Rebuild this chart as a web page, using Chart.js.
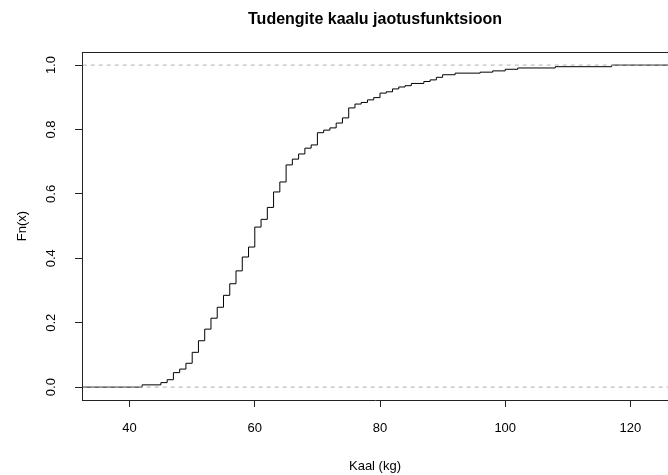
<!DOCTYPE html>
<html>
<head>
<meta charset="utf-8">
<title>Tudengite kaalu jaotusfunktsioon</title>
<script src="https://cdn.jsdelivr.net/npm/chart.js@4.4.0/dist/chart.umd.min.js"></script>
<style>
    html, body { margin: 0; padding: 0; background: #fff; }
    canvas { display: block; }
</style>
</head>
<body>
<canvas id="ecdfChart" width="668" height="475"></canvas>
<script>
// --- ANDMED ---
// Kaalud (kg), kus empiiriline jaotusfunktsioon hüppab (loetud jooniselt)
const kaalud = [42, 45, 46, 47, 48, 49, 50, 51, 52, 53, 54, 55, 56, 57, 58, 59, 60, 61, 62, 63,
    64, 65, 66, 67, 68, 69, 70, 71, 72, 73, 74, 75, 76, 77, 78, 79, 80, 81, 82, 83, 84, 85,
    87, 88, 89, 90, 92, 96, 98, 100, 102, 108, 117];

// Fn(x) väärtus pärast iga hüpet
const fnVaartused = [0.007, 0.014, 0.023, 0.045, 0.056, 0.074, 0.108, 0.144, 0.180, 0.214,
    0.248, 0.285, 0.321, 0.361, 0.404, 0.435, 0.497, 0.521, 0.558, 0.606,
    0.637, 0.690, 0.708, 0.724, 0.742, 0.752, 0.790, 0.798, 0.805, 0.820, 0.836, 0.867,
    0.879, 0.884, 0.892, 0.899, 0.913, 0.917, 0.926, 0.932, 0.936, 0.943,
    0.949, 0.954, 0.962, 0.970, 0.975, 0.978, 0.982, 0.987, 0.991, 0.995, 1.000];

// Telgede jaotised
const xJaotised = [40, 60, 80, 100, 120];
const yJaotised = [0, 0.2, 0.4, 0.6, 0.8, 1.0];

// Telgede ulatus (nagu R-i joonisel, parem serv on ära lõigatud)
const xMin = 32.4, xMax = 126.0;
const yMin = -0.04, yMax = 1.04;

document.addEventListener('DOMContentLoaded', () => {

    Chart.defaults.font.family = '"Liberation Sans", Arial, sans-serif';
    Chart.defaults.color = '#000';

    // Astmefunktsiooni punktid: algab 0-st ja lõpeb 1-ga väljaspool nähtavat ala
    const astmed = [{ x: xMin - 5, y: 0 }];
    kaalud.forEach((k, i) => astmed.push({ x: k, y: fnVaartused[i] }));
    astmed.push({ x: xMax + 5, y: 1 });

    // Katkendjooned tasemetel 0 ja 1
    const nullJoon = [{ x: xMin - 5, y: 0 }, { x: xMax + 5, y: 0 }];
    const uksJoon = [{ x: xMin - 5, y: 1 }, { x: xMax + 5, y: 1 }];

    // Ülemine raamijoon (R-i box), ülejäänud servad joonistavad teljed
    const ylaServ = {
        id: 'ylaServ',
        afterDraw(chart) {
            const { ctx, chartArea } = chart;
            const y = Math.round(chartArea.top) + 0.5;
            ctx.save();
            ctx.strokeStyle = '#222';
            ctx.lineWidth = 1;
            ctx.beginPath();
            ctx.moveTo(chartArea.left, y);
            ctx.lineTo(chartArea.right, y);
            ctx.stroke();
            ctx.restore();
        }
    };

    const ctx = document.getElementById('ecdfChart').getContext('2d');
    new Chart(ctx, {
        type: 'line',
        data: {
            datasets: [{
                data: nullJoon,
                borderColor: '#b3b3b3',
                borderWidth: 1,
                borderDash: [4, 4],
                pointRadius: 0
            }, {
                data: uksJoon,
                borderColor: '#b3b3b3',
                borderWidth: 1,
                borderDash: [4, 4],
                pointRadius: 0
            }, {
                data: astmed,
                borderColor: '#000',
                borderWidth: 1,
                stepped: true,
                pointRadius: 0,
                fill: false
            }]
        },
        options: {
            responsive: false,
            animation: false,
            layout: { padding: 0 },
            plugins: {
                legend: { display: false },
                tooltip: { enabled: false },
                title: {
                    display: true,
                    text: 'Tudengite kaalu jaotusfunktsioon',
                    fullSize: false,
                    font: { size: 16, weight: 'bold' },
                    padding: { top: 10, bottom: 23 }
                }
            },
            scales: {
                x: {
                    type: 'linear',
                    min: xMin,
                    max: xMax,
                    afterBuildTicks: (scale) => { scale.ticks = xJaotised.map(v => ({ value: v })); },
                    afterFit: (scale) => { scale.height = 75; },
                    grid: { display: true, drawOnChartArea: false, drawTicks: true, tickLength: 7, color: '#222' },
                    border: { display: true, color: '#222' },
                    ticks: { font: { size: 13 }, padding: 14, maxRotation: 0 },
                    title: { display: true, text: 'Kaal (kg)', font: { size: 13 }, padding: { top: 0, bottom: 1 } }
                },
                y: {
                    type: 'linear',
                    min: yMin,
                    max: yMax,
                    afterBuildTicks: (scale) => { scale.ticks = yJaotised.map(v => ({ value: v })); },
                    afterFit: (scale) => { scale.width = 82; },
                    grid: { display: true, drawOnChartArea: false, drawTicks: true, tickLength: 7, color: '#222' },
                    border: { display: true, color: '#222' },
                    ticks: {
                        font: { size: 13 },
                        padding: 15,
                        minRotation: 90,
                        maxRotation: 90,
                        crossAlign: 'center',
                        callback: (v) => v.toFixed(1)
                    },
                    title: { display: true, text: 'Fn(x)', font: { size: 13 }, padding: { top: 15, bottom: 0 } }
                }
            }
        },
        plugins: [ylaServ]
    });
});
</script>
</body>
</html>
